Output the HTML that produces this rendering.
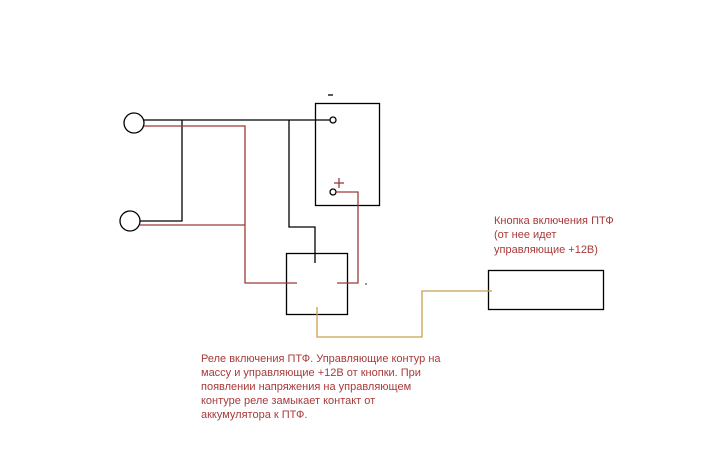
<!DOCTYPE html>
<html><head><meta charset="utf-8"><style>
html,body{margin:0;padding:0;background:#fff;}
svg{display:block}
text{font-family:"Liberation Sans","DejaVu Sans",sans-serif;font-size:11px;fill:#a83a3a;}
</style></head><body>
<svg width="720" height="450" viewBox="0 0 720 450" xmlns="http://www.w3.org/2000/svg">
<rect width="720" height="450" fill="#fff"/>
<g fill="none" stroke-width="1.3">
<!-- black wiring -->
<g stroke="#000">
<circle cx="134" cy="123" r="10"/>
<circle cx="130" cy="221" r="10"/>
<polyline points="144,120 330,120"/>
<polyline points="182,120 182,221 140,221"/>
<polyline points="289,120 289,227 315,227 315,263"/>
<rect x="315.5" y="103.5" width="64" height="102"/>
<circle cx="333" cy="120" r="3" fill="#fff"/>
<circle cx="333" cy="192" r="3" fill="#fff"/>
<rect x="286.5" y="253.5" width="61" height="61"/>
<rect x="488.5" y="270.5" width="115" height="39"/>
<line x1="328" y1="95" x2="333" y2="95"/>
</g>
<!-- red wiring -->
<g stroke="#9a3a3a">
<polyline points="144,126 245,126 245,283 297,283"/>
<polyline points="140,225 245,225"/>
<polyline points="336,192 358,192 358,283 337,283"/>
<line x1="339" y1="178" x2="339" y2="188"/>
<line x1="334" y1="183" x2="344" y2="183"/>
</g>
<!-- orange -->
<polyline stroke="#c9a050" points="317,307 317,337 422,337 422,291 492,291"/>
</g>
<circle cx="366" cy="284" r="0.7" fill="#000"/>
<text x="494" y="224">Кнопка включения ПТФ</text>
<text x="494" y="238">(от нее идет</text>
<text x="494" y="253">управляющие +12В)</text>
<text x="201" y="362">Реле включения ПТФ. Управляющие контур на</text>
<text x="201" y="376">массу и управляющие +12В от кнопки. При</text>
<text x="201" y="390">появлении напряжения на управляющем</text>
<text x="201" y="404">контуре реле замыкает контакт от</text>
<text x="201" y="418">аккумулятора к ПТФ.</text>
</svg>
</body></html>
